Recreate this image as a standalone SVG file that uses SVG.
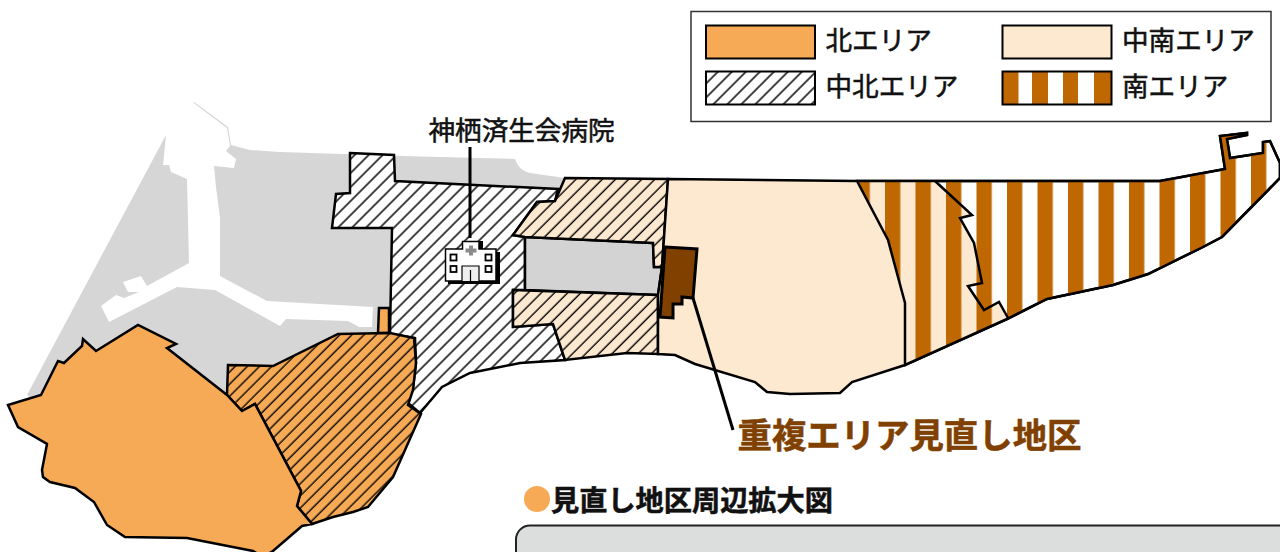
<svg xmlns="http://www.w3.org/2000/svg" width="1280" height="552" viewBox="0 0 1280 552">
<style>
text{font-family:"Noto Sans CJK JP","Noto Sans",sans-serif;font-size:26.6px;font-weight:400;fill:#111;stroke:#111;stroke-width:.55px}
.a{stroke:#000;stroke-width:2.5;stroke-linejoin:miter}
.n{fill:#f7aa55}
.p{fill:#fde8d0}
.lg{stroke:#000;stroke-width:2}
.ln{fill:none;stroke:#000;stroke-width:3}
</style>
<defs>
<pattern id="h" width="9.9" height="9.9" patternUnits="userSpaceOnUse" patternTransform="rotate(45)"><line x1="4" y1="0" x2="4" y2="9.9" stroke="#000" stroke-width="1.45"/></pattern>
<pattern id="ho" width="8.6" height="8.6" patternUnits="userSpaceOnUse" patternTransform="rotate(45)"><line x1="4" y1="0" x2="4" y2="8.6" stroke="#000" stroke-width="1.35"/></pattern>
<pattern id="hp" width="9.3" height="9.3" patternUnits="userSpaceOnUse" patternTransform="rotate(45)"><line x1="4" y1="0" x2="4" y2="9.3" stroke="#000" stroke-width="1.4"/></pattern>
<pattern id="s" x="854.5" y="0" width="30.5" height="20" patternUnits="userSpaceOnUse"><rect width="15.3" height="20" fill="#bf6700"/></pattern>
</defs>
<g id="land">
<path fill="#d6d6d6" d="M27 395L166 135L194 102L228 127L231 145L250 150L280 152L420 156.500L515 159C518 167 522 171 530 173L565 178L600 240L600 340L300 400L100 450Z"/>
<path fill="#fff" d="M166 135L160 100L193 102.500L227 128L230 146L226 151L236 159L234 168L214 166L216 187L220 218L220 276L267 301L373 307L372 327L359 327L348 321L286 319L280 326L215 290L177 287L109 322L101 306L116 295L124 298L139 292L128 292L123 282L141 276L147 286L189 263L187 179L171 172L169 165L163 165Z"/>
</g>
<g id="area-chuhoku">
<path class="a" fill="#fff" d="M350 153L394 155L395 181L558 189L555 201L537 202L513 235L525 237L525 290L513 290L513 327L553 324L565 360L520 363L470 373L442 387L420 413L408 403L413 387L416 363L415 338L390 334L392 228L332 228L336 194L350 193Z"/>
<path fill="url(#h)" d="M350 153L394 155L395 181L558 189L555 201L537 202L513 235L525 237L525 290L513 290L513 327L553 324L565 360L520 363L470 373L442 387L420 413L408 403L413 387L416 363L415 338L390 334L392 228L332 228L336 194L350 193Z"/>
</g>
<g id="area-hoku">
<path class="a n" d="M379 308L389 308L389 333L378 333Z"/>
<path class="a n" d="M228 365L273 366L338 334L390 333L414 338L416 363L413 390L408 405L421 414L393 477L368 507L353 512L333 517L312 524L297 506L301 491L255 404L242 411L227 395Z"/>
<path fill="url(#ho)" d="M228 365L273 366L338 334L390 333L414 338L416 363L413 390L408 405L421 414L393 477L368 507L353 512L333 517L312 524L297 506L301 491L255 404L242 411L227 395Z"/>
<path class="a n" d="M8 405L41 395L58 361L64 363L82 346L83 339L96 351L138 325L176 344L167 348L227 395L242 411L255 404L301 491L297 506L312 524L302 526L273 551L263 557L253 551L187 538L125 537L107 525L94 502L75 488L50 482L43 477L42 470L47 444L18 427Z"/>
</g>
<g id="area-water"><path class="a" fill="#d3d3d3" d="M525 237L653 243L654 267L662 267L658 295L525 290Z"/></g>
<g id="area-chunan">
<path class="a p" d="M565 178L668 179L662 267L654 267L653 243L525 237L513 235L537 202L555 201Z"/>
<path fill="url(#hp)" d="M565 178L668 179L662 267L654 267L653 243L525 237L513 235L537 202L555 201Z"/>
<path class="a p" d="M513 290L658 295L658 354L627 353L565 360L553 324L513 327Z"/>
<path fill="url(#hp)" d="M513 290L658 295L658 354L627 353L565 360L553 324L513 327Z"/>
</g>
<g id="area-minami">
<path class="a" fill="#fff" d="M857 181L1160 181L1225 169L1220 136L1247 133L1247 135L1227 139L1230 158L1263 153L1263 142L1270 141L1280 163L1280 178L1222 237L1203 247L1148 274L1113 285L1047 299L1007 319L905 365Z"/>
<path class="p" d="M857 181L935 181L972 215L960 218L974 243L982 283L968 286L984 310L999 302L1008 318L905 365Z"/>
<path fill="url(#s)" d="M857 181L1160 181L1225 169L1220 136L1247 133L1247 135L1227 139L1230 158L1263 153L1263 142L1270 141L1280 163L1280 178L1222 237L1203 247L1148 274L1113 285L1047 299L1007 319L905 365Z"/>
<path fill="none" class="a" d="M857 181L1160 181L1225 169L1220 136L1247 133L1247 135L1227 139L1230 158L1263 153L1263 142L1270 141L1280 163L1280 178L1222 237L1203 247L1148 274L1113 285L1047 299L1007 319L905 365"/>
<path fill="none" class="a" d="M935 181L972 215L960 218L974 243L982 283L968 286L984 310L999 302L1008 318"/>
<path class="a p" d="M668 179L857 181L888 240L905 303L905 365L852 382L840 393L790 394L767 392L755 382L695 364L675 355L658 354L658 295L662 267Z"/>
</g>
<g id="area-overlap"><path fill="#804000" stroke="#000" stroke-width="3" d="M665 247L697 249L693 298L682 297L682 304L673 304L673 318L660 317Z"/></g>
<g id="connectors">
<path class="ln" d="M693 298L733 430"/>
<path class="ln" d="M470 147L470 238"/>
</g>
<g id="hospital">
<path fill="#000" d="M448 252H500V284H448Z"/>
<path fill="#000" d="M476 241H483V252H476Z"/>
<path fill="#fff" stroke="#000" stroke-width="1.500" d="M445.500 249H462.500V241.500H479V249H496V281H445.500Z"/>
<path fill="#8a8a8a" d="M469 245.500H473V248.500H476.500V252.500H473V255.500H469V252.500H465.500V248.500H469Z"/>
<g fill="#fff" stroke="#000" stroke-width="1.800"><rect x="450.500" y="254.500" width="6" height="6"/><rect x="485.500" y="254.500" width="6" height="6"/><rect x="450.500" y="266" width="6" height="6"/><rect x="485.500" y="266" width="6" height="6"/></g>
<path fill="#eee" stroke="#000" stroke-width="1.200" d="M462 281V266H479V281M470.500 270V281"/>
<text x="428.500" y="140">神栖済生会病院</text>
</g>
<g id="overlap-label"><text x="737.500" y="448" style="font-size:34.400px;font-weight:700;fill:#804000;stroke:#804000">重複エリア見直し地区</text></g>
<g id="legend">
<rect x="691" y="11.500" width="580" height="110" fill="#fff" stroke="#333" stroke-width="1.500"/>
<rect class="lg n" x="706" y="25.500" width="109" height="33"/>
<text x="825.500" y="50">北エリア</text>
<rect class="lg p" x="1002.500" y="25.500" width="109" height="33"/>
<text x="1122" y="50">中南エリア</text>
<rect x="706" y="71.500" width="109" height="33" fill="#fff"/>
<rect class="lg" x="706" y="71.500" width="109" height="33" fill="url(#h)"/>
<text x="825.500" y="96">中北エリア</text>
<rect x="1002.500" y="71.500" width="109" height="33" fill="#fff"/>
<path fill="#bf6700" d="M1002.500 71.500h16v33h-16zM1032 71.500h16v33h-16zM1063 71.500h15v33h-15zM1094 71.500h17.500v33h-17.500z"/>
<rect class="lg" x="1002.500" y="71.500" width="109" height="33" fill="none"/>
<text x="1122" y="96">南エリア</text>
</g>
<g id="inset">
<circle cx="537" cy="499" r="13" fill="#f7aa55"/>
<text x="551" y="510.500" style="font-size:28.200px;font-weight:700">見直し地区周辺拡大図</text>
<rect x="516" y="525.500" width="800" height="60" rx="14" fill="#dcdddd" stroke="#222" stroke-width="2"/>
</g>
</svg>
